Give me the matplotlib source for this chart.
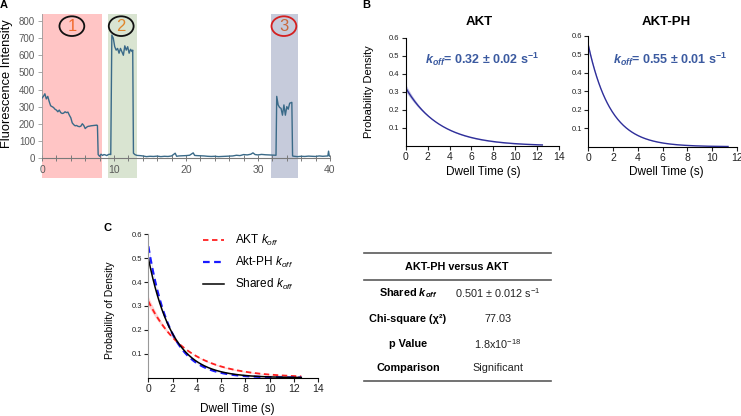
import numpy as np
import matplotlib
matplotlib.use('Agg')
import matplotlib.pyplot as plt
from matplotlib.patches import Ellipse
from matplotlib.lines import Line2D

plt.rcParams['font.family'] = ['Liberation Sans', 'DejaVu Sans']
plt.rcParams['mathtext.fontset'] = 'custom'
plt.rcParams['mathtext.rm'] = 'Liberation Sans'
plt.rcParams['mathtext.it'] = 'Liberation Sans:italic'
plt.rcParams['mathtext.bf'] = 'Liberation Sans:bold'
plt.rcParams['mathtext.bfit'] = 'Liberation Sans:italic:bold'

# ---- data ----
# panel A: single-molecule trace (time in s, intensity)
trace_time = [0, 0.2, 0.4, 0.6, 0.8, 1.0, 1.2, 1.4, 1.6, 1.8, 2.0, 2.2, 2.4, 2.6, 2.8,
              3.0, 3.2, 3.4, 3.6, 3.8, 4.0, 4.2, 4.4, 4.6, 4.8, 5.0, 5.2, 5.4, 5.6, 5.8,
              6.0, 6.2, 6.4, 6.6, 6.8, 7.0, 7.2, 7.4, 7.6, 7.7, 7.8, 8.0, 8.2, 8.4, 8.6,
              8.8, 9.0, 9.2, 9.4, 9.55,
              9.7, 9.9, 10.1, 10.3, 10.5, 10.7, 10.9, 11.1, 11.3, 11.5, 11.7, 11.9, 12.1,
              12.3, 12.5, 12.6, 12.7, 12.9, 13.2, 13.6,
              14.0, 14.5, 15.0, 15.5, 16.0, 16.5, 17.0, 17.5, 18.0, 18.5, 18.7, 19.0, 19.5,
              20.0, 20.5, 21.0, 21.2, 21.5, 22.0, 22.5, 23.0, 23.5, 24.0, 24.5, 25.0, 25.5,
              26.0, 26.5, 27.0, 27.5, 28.0, 28.5, 29.0, 29.3, 29.6, 30.0, 30.5, 31.0, 31.5,
              32.0, 32.5,
              32.6, 32.8, 33.0, 33.2, 33.4, 33.6, 33.8, 34.0, 34.2, 34.4, 34.7, 34.8,
              35.0, 35.5, 36.0, 36.5, 37.0, 37.5, 38.0, 38.5, 39.0, 39.5, 39.7, 39.8, 39.9, 40.0]
trace_intensity = [350, 360, 375, 345, 360, 330, 305, 300, 295, 285, 280, 270, 280, 265, 260,
                   262, 270, 265, 268, 250, 235, 205, 195, 188, 190, 185, 183, 186, 200, 190,
                   172, 180, 185, 186, 188, 189, 190, 191, 192, 190, 20, 10, 22, 15, 20,
                   18, 14, 20, 22, 20,
                   718, 700, 650, 630, 640, 612, 640, 620, 600, 655, 630, 650, 612,
                   635, 622, 630, 28, 20, 15, 14,
                   12, 8, 10, 9, 11, 8, 10, 9, 12, 28, 10, 12, 13,
                   14, 16, 30, 15, 14, 13, 12, 10, 9, 10, 8, 9, 10,
                   11, 12, 16, 14, 20, 18, 22, 30, 20, 18, 21, 19, 18,
                   17, 16,
                   360, 310, 295, 290, 250, 310, 250, 300, 285, 320, 325, 12,
                   10, 8, 10, 9, 11, 10, 9, 12, 10, 11, 12, 40, 12, 10]
state_labels = ['1', '2', '3']
state_windows = [(0, 8.33), (9.1, 13.2), (31.8, 35.5)]
state_centers = [4.15, 11.0, 33.6]

# panels B/C: single-exponential dwell-time fits
koff_akt, koff_akt_err = 0.32, 0.02
koff_ph, koff_ph_err = 0.55, 0.01
koff_shared, koff_shared_err = 0.501, 0.012

table_title = 'AKT-PH versus AKT'
table_labels = [r'Shared $\mathbfit{k_{off}}$', 'Chi-square (χ²)', 'p Value', 'Comparison']
table_values = [r'0.501 ± 0.012 s$^{-1}$', '77.03', r'1.8x10$^{-18}$', 'Significant']

W, H = 741, 416
fig = plt.figure(figsize=(W / 100, H / 100), dpi=100)


def fx(px):
    return px / W


def fy(py):
    return 1 - py / H


def axes_px(left, top, right, bottom):
    return fig.add_axes([fx(left), fy(bottom), (right - left) / W, (bottom - top) / H])


def fit_curve(k, t):
    return k * np.exp(-k * t)


def style_fit_axes(ax, xmax):
    ax.set_xlim(0, xmax)
    ax.set_ylim(0, 0.6)
    ax.set_xticks(np.arange(0, xmax + 1, 2))
    ax.set_yticks([0.1, 0.2, 0.3, 0.4, 0.5, 0.6])
    ax.spines[['top', 'right']].set_visible(False)
    for s in ['left', 'bottom']:
        ax.spines[s].set_linewidth(0.8)
    ax.tick_params(axis='x', labelsize=7.5, length=3, width=0.8, pad=1.5, colors='#222222')
    ax.tick_params(axis='y', labelsize=5.5, length=3, width=0.8, pad=1.5, colors='#222222')
    ax.patch.set_alpha(0)


# ---- panel A ----
axA = axes_px(42, 14, 330, 158)
axA.set_xlim(0, 40)
axA.set_ylim(0, 841)
span_colors = ['#ffc5c5', '#d9e4d1', '#c6cbdb']
for (a, b), c in zip(state_windows, span_colors):
    axA.axvspan(a, b, ymin=-20 / 144, ymax=1, color=c, lw=0, zorder=0, clip_on=False)
axA.plot(trace_time, trace_intensity, color='#3a6a88', lw=1.0, zorder=3)
axA.set_xticks([0, 10, 20, 30, 40])
axA.set_xticks(np.arange(0, 41, 2), minor=True)
axA.set_yticks(np.arange(0, 801, 100))
axA.spines[['top', 'right']].set_visible(False)
axA.spines['bottom'].set_color('#7a7a7a')
axA.spines['left'].set_color('#9a9a9a')
axA.spines['left'].set_linewidth(0.6)
axA.tick_params(axis='x', which='both', direction='inout', length=4, width=0.7,
                colors='#7a7a7a', labelcolor='#595959', labelsize=7.5, pad=3)
axA.tick_params(axis='y', length=3, width=0.6, colors='#9a9a9a',
                labelcolor='#595959', labelsize=7, pad=2)
axA.patch.set_alpha(0)

circle_edges = ['#111111', '#111111', '#d42020']
num_colors = ['#f26a2e', '#e0862c', '#c9683a']
for lab, cx, ec, nc in zip(state_labels, state_centers, circle_edges, num_colors):
    axA.add_patch(Ellipse((cx, 770), width=3.45, height=115, fill=False, ec=ec, lw=1.3,
                          clip_on=False, zorder=4))
    axA.text(cx, 770, lab, color=nc, fontsize=12, ha='center', va='center', zorder=5)

fig.text(fx(7), fy(84), 'Fluorescence Intensity', rotation=90, fontsize=9.3,
         ha='center', va='center')

# ---- panel B ----
line_col = '#2f2f9a'
band_col = '#a9a9dc'
t_akt = np.linspace(0, 12.5, 200)
t_ph = np.linspace(0, 11.3, 200)

axB1 = axes_px(406, 38, 558.7, 146)
axB1.fill_between(t_akt, fit_curve(koff_akt - koff_akt_err, t_akt),
                  fit_curve(koff_akt + koff_akt_err, t_akt), color=band_col, alpha=0.7, lw=0)
axB1.plot(t_akt, fit_curve(koff_akt, t_akt), color=line_col, lw=1.0)
style_fit_axes(axB1, 14)

axB2 = axes_px(588.3, 36, 736.7, 146.7)
axB2.fill_between(t_ph, fit_curve(koff_ph - koff_ph_err, t_ph),
                  fit_curve(koff_ph + koff_ph_err, t_ph), color=band_col, alpha=0.7, lw=0)
axB2.plot(t_ph, fit_curve(koff_ph, t_ph), color=line_col, lw=1.0)
style_fit_axes(axB2, 12)

ann_col = '#3b5aa0'
fig.text(fx(425), fy(59), r'$\mathbfit{k_{off}}$' + '= %.2f ± %.2f s' % (koff_akt, koff_akt_err)
         + r'$^{\mathbf{-1}}$', color=ann_col, fontsize=9, fontweight='bold', va='center')
fig.text(fx(613), fy(59), r'$\mathbfit{k_{off}}$' + '= %.2f ± %.2f s' % (koff_ph, koff_ph_err)
         + r'$^{\mathbf{-1}}$', color=ann_col, fontsize=9, fontweight='bold', va='center')
fig.text(fx(479), fy(22), 'AKT', fontsize=9.5, fontweight='bold', ha='center', va='center')
fig.text(fx(666.7), fy(22), 'AKT-PH', fontsize=9.5, fontweight='bold', ha='center', va='center')
fig.text(fx(483), fy(172), 'Dwell Time (s)', fontsize=8.5, ha='center', va='center')
fig.text(fx(666.7), fy(172), 'Dwell Time (s)', fontsize=8.5, ha='center', va='center')
fig.text(fx(369), fy(92), 'Probability Density', rotation=90, fontsize=8,
         ha='center', va='center')

# ---- panel C ----
t_c = np.linspace(0, 12.6, 200)
axC = axes_px(148.3, 234.3, 318.3, 377.7)
axC.fill_between(t_c, fit_curve(koff_akt - koff_akt_err, t_c),
                 fit_curve(koff_akt + koff_akt_err, t_c), color='#ffb8b8', alpha=0.6, lw=0)
axC.fill_between(t_c, fit_curve(koff_ph - koff_ph_err, t_c),
                 fit_curve(koff_ph + koff_ph_err, t_c), color='#b8b8ff', alpha=0.6, lw=0)
axC.plot(t_c, fit_curve(koff_akt, t_c), color='#ff2020', lw=1.3, ls=(0, (3, 2)),
         label=r'AKT $k_{off}$')
axC.plot(t_c, fit_curve(koff_ph, t_c), color='#1a1aff', lw=1.6, ls=(0, (3, 2)),
         label=r'Akt-PH $k_{off}$')
axC.plot(t_c, fit_curve(koff_shared, t_c), color='black', lw=1.1,
         label=r'Shared $k_{off}$')
style_fit_axes(axC, 14)
axC.spines['left'].set_color('#999999')
axC.legend(loc='upper left', bbox_to_anchor=(fx(203), fy(233)), bbox_transform=fig.transFigure,
           frameon=False, fontsize=8.5, handlelength=1.75, handletextpad=1.0,
           labelspacing=0.6, borderpad=0, borderaxespad=0)
fig.text(fx(237), fy(409), 'Dwell Time (s)', fontsize=8.5, ha='center', va='center')
fig.text(fx(110), fy(310), 'Probability of Density', rotation=90, fontsize=7.5,
         ha='center', va='center')

# ---- table ----
for yy in [252.7, 280, 380.7]:
    fig.add_artist(Line2D([fx(364), fx(551)], [fy(yy), fy(yy)], transform=fig.transFigure,
                          color='#5a5a5a', lw=1.2))
fig.text(fx(456.7), fy(267), table_title, fontsize=7.8, fontweight='bold',
         ha='center', va='center')
for yy, lab, val in zip([293.3, 319.3, 344, 368.3], table_labels, table_values):
    fig.text(fx(408), fy(yy), lab, fontsize=7.8, fontweight='bold', ha='center', va='center')
    fig.text(fx(498), fy(yy), val, fontsize=7.8, ha='center', va='center', color='#222222')

# panel letters
for lab, px, py in [('A', 4, 5), ('B', 366, 5), ('C', 108, 228)]:
    fig.text(fx(px), fy(py), lab, fontsize=8, fontweight='bold', ha='center', va='center')

fig.savefig('out.png', dpi=100)
